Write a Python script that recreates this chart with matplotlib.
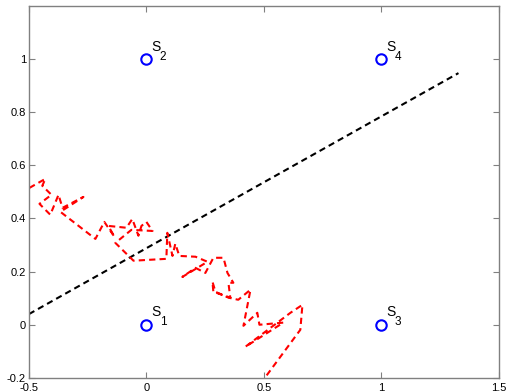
import numpy as np
import matplotlib
matplotlib.use('Agg')
from matplotlib import pyplot as plt

plt.rcParams['font.family'] = 'Liberation Sans'
plt.rcParams['font.size'] = 8

# stations
station_x = [0, 0, 1, 1]
station_y = [0, 1, 0, 1]
station_names = ['1', '2', '3', '4']

# dashed black line end points
line_x = [-0.5, 1.328]
line_y = [0.04, 0.947]

# red walk
walk_x = [-0.498, -0.430, -0.443, -0.404, -0.455, -0.409, -0.374, -0.357, -0.268, -0.366,
          -0.217, -0.179, -0.136, -0.162, -0.085, -0.060, -0.034, -0.021, 0.000, 0.026,
          -0.064, -0.132, -0.055, 0.085, 0.089, 0.111, 0.123, 0.140, 0.209, 0.260,
          0.153, 0.209, 0.251, 0.285, 0.328, 0.345, 0.370, 0.349, 0.357, 0.285,
          0.281, 0.294, 0.349, 0.391, 0.443, 0.413, 0.472, 0.481, 0.583, 0.421,
          0.613, 0.664, 0.655, 0.498, 0.464]
walk_y = [0.515, 0.549, 0.523, 0.489, 0.455, 0.414, 0.489, 0.440, 0.481, 0.425,
          0.323, 0.387, 0.331, 0.372, 0.365, 0.398, 0.335, 0.372, 0.387, 0.353,
          0.357, 0.308, 0.241, 0.248, 0.346, 0.259, 0.305, 0.259, 0.256, 0.237,
          0.180, 0.214, 0.195, 0.252, 0.252, 0.195, 0.158, 0.158, 0.102, 0.124,
          0.162, 0.124, 0.102, 0.094, 0.132, -0.004, 0.045, 0.000, 0.008, -0.083,
          0.045, 0.075, -0.019, -0.207, -0.244]

fig = plt.figure(figsize=(5.07, 3.92), dpi=100)
ax = fig.add_axes([0.057, 0.036, 0.927, 0.949])

ax.plot(line_x, line_y, '--', color='black', lw=1.5, dashes=(3, 2))
ax.plot(walk_x, walk_y, '--', color='red', lw=1.5, dashes=(3, 2))
ax.plot(station_x, station_y, 'o', markerfacecolor='none', markeredgecolor='blue',
        markersize=7.5, markeredgewidth=1.5, linestyle='none')
for sx, sy, name in zip(station_x, station_y, station_names):
    ax.annotate('S', (sx, sy), xytext=(3.5, 6), textcoords='offset points',
                fontsize=10, va='baseline', ha='left')
    ax.annotate(name, (sx, sy), xytext=(9.5, -0.5), textcoords='offset points',
                fontsize=8.5, va='baseline', ha='left')

ax.set_xlim(-0.5, 1.5)
ax.set_ylim(-0.2, 1.2)
ax.set_xticks([-0.5, 0, 0.5, 1, 1.5])
ax.set_xticklabels(['-0.5', '0', '0.5', '1', '1.5'])
ax.set_yticks([-0.2, 0, 0.2, 0.4, 0.6, 0.8, 1])
ax.set_yticklabels(['-0.2', '0', '0.2', '0.4', '0.6', '0.8', '1'])
ax.tick_params(direction='in', length=4, top=True, right=True, color='#808080', pad=2)
ax.tick_params(axis='x', pad=4)
for s in ax.spines.values():
    s.set_color('#808080')
    s.set_linewidth(1)

plt.savefig('out.png', dpi=100)
